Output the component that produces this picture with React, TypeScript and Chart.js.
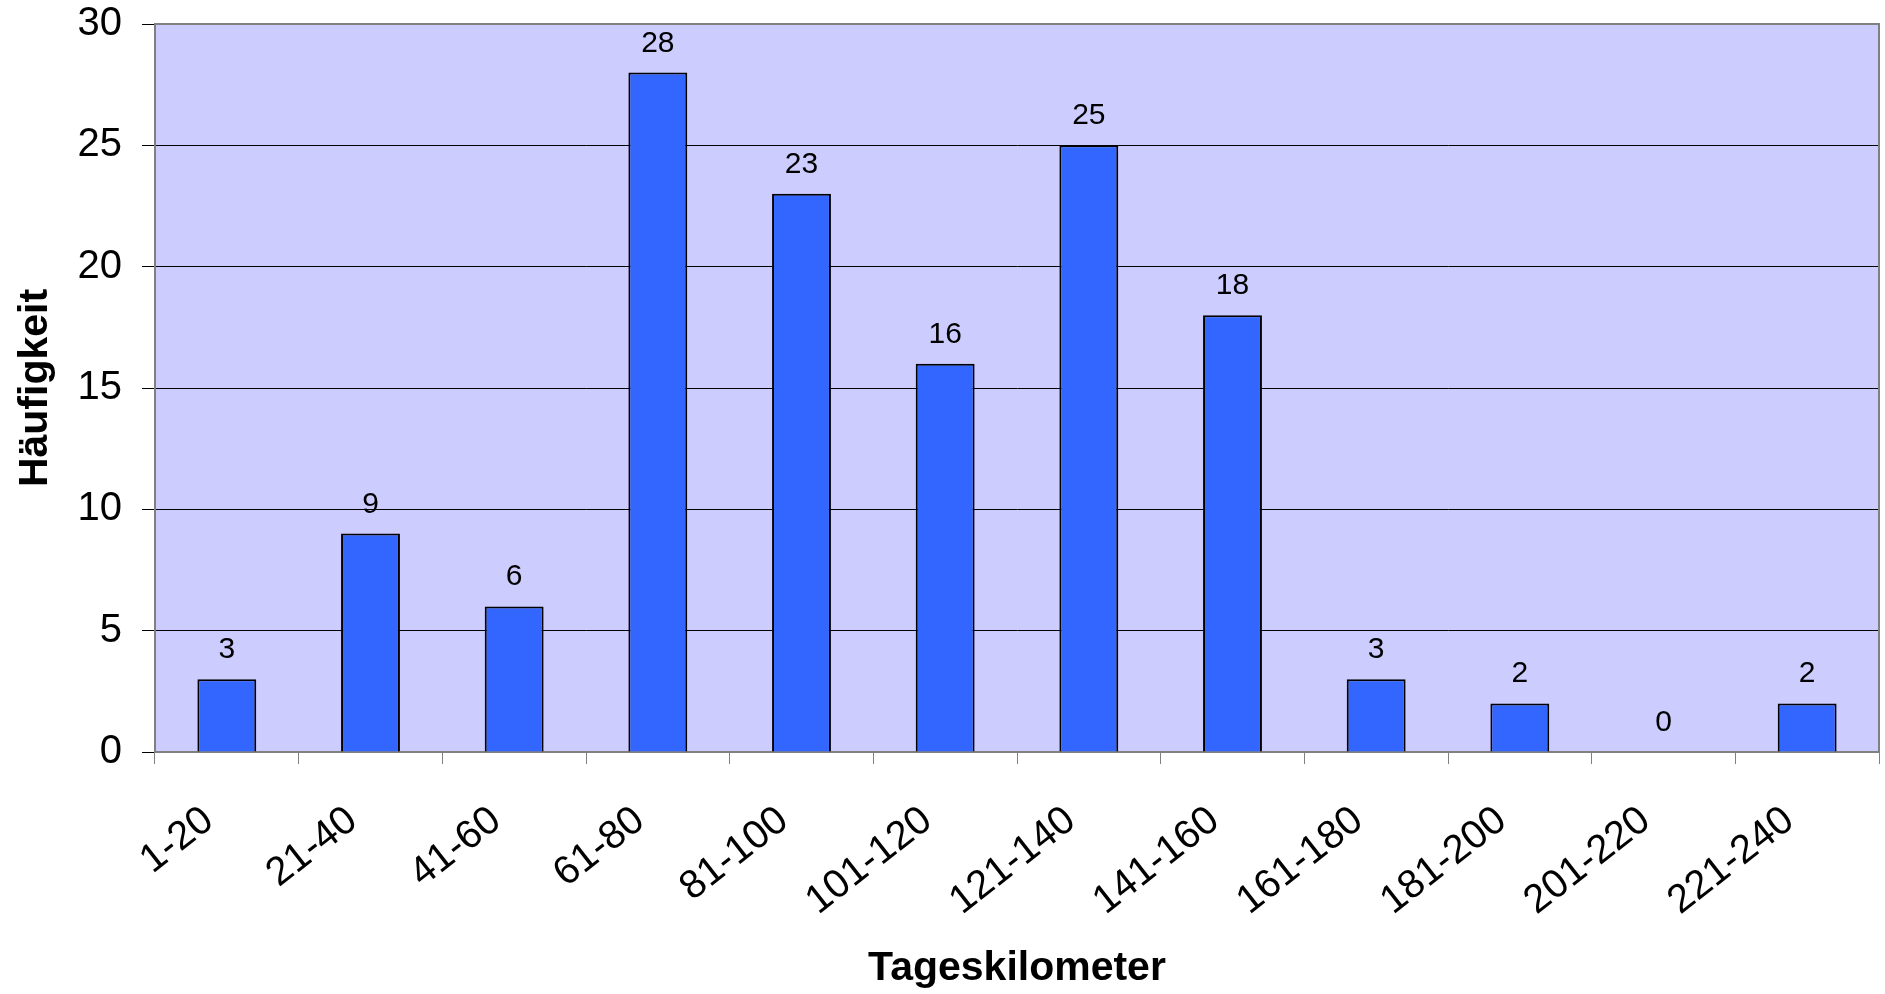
import React, { useEffect, useRef } from "react";
import { Chart, registerables } from "chart.js";

Chart.register(...registerables);

const categories = ["1-20", "21-40", "41-60", "61-80", "81-100", "101-120", "121-140", "141-160", "161-180", "181-200", "201-220", "221-240"];
const counts = [3, 9, 6, 28, 23, 16, 25, 18, 3, 2, 0, 2];
const yTicks = [0, 5, 10, 15, 20, 25, 30];
const xTitle = "Tageskilometer";
const yTitle = "Häufigkeit";

const FONT = "'Liberation Sans', Arial, sans-serif";

const bgPlugin = {
  id: "plotBg",
  beforeDraw(chart: any) {
    const { ctx, chartArea: a } = chart;
    ctx.save();
    ctx.fillStyle = "#CCCCFF";
    ctx.fillRect(a.left, a.top, a.right - a.left, a.bottom - a.top);
    ctx.restore();
  },
  afterDatasetsDraw(chart: any) {
    const { ctx, chartArea: a } = chart;
    ctx.save();
    ctx.strokeStyle = "#808080";
    ctx.lineWidth = 2;
    ctx.beginPath();
    ctx.moveTo(a.left, a.top);
    ctx.lineTo(a.right, a.top);
    ctx.lineTo(a.right, a.bottom);
    ctx.stroke();
    // data labels
    const meta = chart.getDatasetMeta(0);
    ctx.fillStyle = "#000";
    ctx.font = `30px ${FONT}`;
    ctx.textAlign = "center";
    ctx.textBaseline = "alphabetic";
    meta.data.forEach((el: any, i: number) => {
      ctx.fillText(String(counts[i]), el.x, el.y - 21);
    });
    ctx.restore();
  },
};

export default function App() {
  const ref = useRef<HTMLCanvasElement | null>(null);
  useEffect(() => {
    if (!ref.current) return;
    const chart = new Chart(ref.current, {
      type: "bar",
      data: {
        labels: categories,
        datasets: [
          {
            data: counts,
            backgroundColor: "#3366FF",
            borderColor: "#000000",
            borderWidth: 2,
            barPercentage: 0.41,
            categoryPercentage: 1,
          },
        ],
      },
      options: {
        responsive: false,
        animation: false,
        layout: { padding: { top: 24, right: 6, left: 0, bottom: 0 } },
        plugins: { legend: { display: false }, tooltip: { enabled: false } },
        scales: {
          x: {
            offset: true,
            grid: { offset: true, drawOnChartArea: false, drawTicks: true, tickLength: 12, color: "#808080", lineWidth: 1 },
            border: { color: "#808080", width: 2 },
            ticks: {
              minRotation: 38,
              maxRotation: 38,
              padding: 33,
              labelOffset: -18,
              color: "#000",
              font: { family: FONT, size: 40 },
              autoSkip: false,
            },
            title: { display: true, text: xTitle, color: "#000", font: { family: FONT, size: 41, weight: "bold" }, padding: { top: 0, bottom: 1 } },
            afterFit: (s: any) => { s.height = 242; s.paddingLeft = 0; s.paddingRight = 0; },
          },
          y: {
            min: 0,
            max: 30,
            afterBuildTicks: (s: any) => { s.ticks = yTicks.map((v) => ({ value: v })); },
            grid: { color: "#000", lineWidth: 1, tickLength: 13, drawTicks: true },
            border: { color: "#808080", width: 2 },
            ticks: { padding: 20, color: "#000", font: { family: FONT, size: 40 } },
            title: { display: true, text: yTitle, color: "#000", font: { family: FONT, size: 41, weight: "bold" }, padding: { top: 11, bottom: 0 } },
            afterFit: (s: any) => { s.width = 155; s.paddingTop = 0; s.paddingBottom = 0; },
          },
        },
      },
      plugins: [bgPlugin],
    } as any);
    return () => chart.destroy();
  }, []);
  return (
    <div style={{ position: "absolute", left: 0, top: 0, width: 1885, height: 994, background: "#fff" }}>
      <canvas ref={ref} width={1885} height={994} style={{ width: 1885, height: 994, display: "block" }} />
    </div>
  );
}
